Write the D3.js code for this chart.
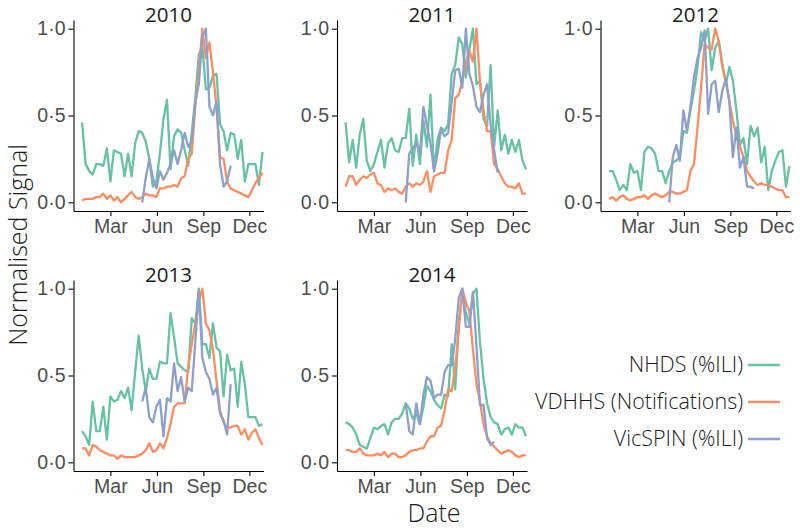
<!DOCTYPE html>
<html>
<head>
<meta charset="utf-8">
<script src="https://cdn.jsdelivr.net/npm/d3@7"></script>
<style>
  body { margin: 0; background: #fff; }
  svg { font-family: "Open Sans", sans-serif; font-weight: 300; }
  .tick text { fill: #4d4d4d; }
</style>
</head>
<body>
<script>
// weekly normalised signals, one value per week (null = no data that week)
const years = [2010, 2011, 2012, 2013, 2014];
const seriesNames = ['NHDS (%ILI)', 'VDHHS (Notifications)', 'VicSPIN (%ILI)'];
const seriesColors = ['#66c2a5', '#fc8d62', '#8da0cb'];
const monthTicks = ['Mar', 'Jun', 'Sep', 'Dec'];
const yTicks = [0, 0.5, 1];

const pre = n => Array(n).fill(null);

const nhds2010 = [0.46,0.22,0.18,0.16,0.22,0.22,0.21,0.31,0.12,0.30,0.29,0.28,0.15,0.28,0.15,0.34,0.41,0.40,0.35,0.25,0.09,0.12,0.28,0.48,0.59,0.19,0.38,0.42,0.40,0.30,0.21,0.40,0.60,0.85,0.90,0.65,0.66,0.73,0.74,0.45,0.41,0.30,0.40,0.39,0.25,0.36,0.12,0.22,0.22,0.22,0.10,0.29];
const vdhhs2010 = [0.01,0.02,0.02,0.02,0.03,0.03,0.05,0.02,0.04,0.01,0.03,0.00,0.02,0.04,0.06,0.03,0.02,0.03,0.05,0.04,0.04,0.03,0.08,0.08,0.09,0.09,0.10,0.09,0.14,0.15,0.25,0.28,0.55,0.75,1.00,0.83,0.92,0.75,0.55,0.26,0.25,0.12,0.08,0.07,0.06,0.05,0.04,0.03,0.07,0.11,0.14,0.17];
const vicspin2010 = pre(17).concat([0.00,0.14,0.25,0.14,0.08,0.18,0.13,0.17,0.22,0.30,0.22,0.30,0.40,0.32,0.35,0.58,0.68,0.95,1.00,0.55,0.50,0.58,0.22,0.09,0.12,0.21]);

const nhds2011 = [0.46,0.23,0.36,0.20,0.39,0.48,0.24,0.18,0.22,0.29,0.36,0.20,0.34,0.37,0.30,0.29,0.37,0.37,0.54,0.21,0.39,0.22,0.47,0.32,0.62,0.18,0.36,0.43,0.41,0.45,0.74,0.79,0.95,0.91,0.72,0.88,1.00,0.68,0.70,0.48,0.44,0.79,0.32,0.53,0.30,0.39,0.28,0.36,0.29,0.36,0.24,0.19];
const vdhhs2011 = [0.09,0.15,0.15,0.10,0.13,0.15,0.14,0.16,0.17,0.11,0.10,0.06,0.08,0.07,0.08,0.06,0.05,0.09,0.11,0.09,0.11,0.10,0.12,0.18,0.06,0.15,0.16,0.17,0.17,0.30,0.36,0.60,0.62,0.70,0.81,0.87,0.81,1.00,0.69,0.53,0.41,0.41,0.22,0.19,0.15,0.11,0.09,0.09,0.08,0.11,0.05,0.05];
const vicspin2011 = pre(17).concat([0.00,0.28,0.31,0.34,0.28,0.55,0.44,0.34,0.18,0.28,0.42,0.38,0.40,0.58,0.76,0.77,0.66,1.00,0.74,0.67,0.55,0.52,0.62,0.68,0.45,0.30,0.17]);

const nhds2012 = [0.18,0.18,0.13,0.07,0.10,0.07,0.22,0.17,0.18,0.07,0.29,0.32,0.31,0.28,0.18,0.18,0.11,0.18,0.23,0.24,0.26,0.41,0.40,0.53,0.64,0.78,0.98,0.93,1.00,0.76,0.89,0.93,0.80,0.68,0.78,0.70,0.53,0.33,0.37,0.22,0.44,0.38,0.43,0.23,0.32,0.07,0.18,0.24,0.29,0.30,0.09,0.21];
const vdhhs2012 = [0.02,0.03,0.01,0.03,0.04,0.02,0.01,0.02,0.03,0.03,0.04,0.02,0.04,0.05,0.04,0.03,0.04,0.06,0.06,0.05,0.05,0.06,0.07,0.18,0.22,0.43,0.66,0.91,0.89,0.88,1.00,0.93,0.78,0.70,0.58,0.47,0.38,0.32,0.26,0.18,0.15,0.12,0.10,0.11,0.10,0.10,0.09,0.08,0.07,0.07,0.03,0.03];
const vicspin2012 = pre(17).concat([0.00,0.26,0.33,0.24,0.53,0.41,0.55,0.72,0.83,0.89,0.99,0.51,0.68,0.70,0.52,0.64,0.71,0.58,0.26,0.43,0.20,0.26,0.09,0.09,0.08]);

const nhds2013 = [0.18,0.15,0.10,0.35,0.18,0.18,0.32,0.13,0.38,0.35,0.36,0.41,0.37,0.43,0.30,0.52,0.73,0.54,0.41,0.54,0.48,0.48,0.58,0.57,0.57,0.86,0.72,0.57,0.55,0.53,0.52,0.83,0.80,1.00,0.68,0.68,0.60,0.80,0.66,0.64,0.38,0.62,0.53,0.54,0.32,0.58,0.45,0.26,0.26,0.26,0.21,0.22];
const vdhhs2013 = [0.08,0.08,0.04,0.10,0.09,0.07,0.06,0.05,0.04,0.04,0.02,0.04,0.03,0.03,0.03,0.03,0.04,0.05,0.07,0.11,0.06,0.07,0.11,0.08,0.14,0.22,0.32,0.34,0.34,0.34,0.55,0.68,0.80,0.93,1.00,0.80,0.76,0.65,0.47,0.30,0.23,0.20,0.20,0.21,0.21,0.16,0.19,0.13,0.17,0.19,0.14,0.10];
const vicspin2013 = pre(17).concat([0.35,0.43,0.26,0.23,0.32,0.36,0.15,0.37,0.35,0.57,0.41,0.49,0.35,0.43,0.41,0.69,0.99,0.60,0.52,0.48,0.39,0.43,0.28,0.24,0.16,0.45]);

const nhds2014 = [0.23,0.22,0.20,0.16,0.10,0.09,0.08,0.14,0.20,0.19,0.21,0.22,0.16,0.23,0.25,0.25,0.28,0.34,0.31,0.25,0.28,0.22,0.32,0.44,0.41,0.36,0.33,0.31,0.39,0.38,0.68,0.42,0.80,0.98,0.86,0.80,0.97,1.00,0.69,0.48,0.34,0.26,0.23,0.22,0.16,0.19,0.20,0.16,0.22,0.20,0.20,0.15];
const vdhhs2014 = [0.07,0.07,0.06,0.06,0.08,0.05,0.04,0.04,0.04,0.05,0.04,0.06,0.03,0.05,0.05,0.03,0.03,0.04,0.06,0.07,0.07,0.08,0.08,0.12,0.15,0.15,0.20,0.21,0.30,0.42,0.41,0.55,0.76,1.00,0.92,0.87,0.65,0.45,0.35,0.22,0.15,0.11,0.09,0.07,0.05,0.06,0.07,0.06,0.04,0.03,0.04,0.04];
const vicspin2014 = pre(17).concat([0.34,0.18,0.16,0.34,0.22,0.39,0.49,0.47,0.37,0.39,0.39,0.52,0.56,0.56,0.71,0.95,1.00,0.78,0.78,0.98,0.67,0.33,0.33,0.14,0.10,0.12]);

const yearSeries = {
  2010: [nhds2010, vdhhs2010, vicspin2010],
  2011: [nhds2011, vdhhs2011, vicspin2011],
  2012: [nhds2012, vdhhs2012, vicspin2012],
  2013: [nhds2013, vdhhs2013, vicspin2013],
  2014: [nhds2014, vdhhs2014, vicspin2014]
};

const width = 800, height = 530;
const panelW = 190, panelH = 191;
const colX = [73.5, 337, 600.5];
const rowY = [20, 280];

// all panels share the same day-of-year axis, drawn on a reference year
const DAY = 864e5;
const firstWeek = Date.UTC(2010, 0, 4);
const weekDate = i => new Date(firstWeek + i * 7 * DAY);

const x = d3.scaleUtc()
  .domain([new Date(Date.UTC(2010, 0, 1) - 14 * DAY), new Date(Date.UTC(2010, 11, 29))])
  .range([0, panelW]);

const y = d3.scaleLinear()
  .domain([-0.05, 1.05])
  .range([panelH, 0]);

const tickDates = monthTicks.map(m => d3.utcParse('%b %Y')(m + ' 2010'));
const fmtY = d => d3.format('.1f')(d).replace('.', '·');

const line = d3.line()
  .defined(d => d != null)
  .x((d, i) => x(weekDate(i)))
  .y(d => y(d));

const svg = d3.select('body').append('svg')
  .attr('width', width)
  .attr('height', height);

years.forEach((yr, k) => {
  const g = svg.append('g')
    .attr('transform', `translate(${colX[k % 3]},${rowY[Math.floor(k / 3)]})`);

  g.append('text')
    .attr('x', panelW / 2)
    .attr('y', 2)
    .attr('text-anchor', 'middle')
    .style('font-size', '20.5px')
    .style('font-weight', 400)
    .attr('fill', '#1a1a1a')
    .text(yr);

  yearSeries[yr].forEach((vals, s) => {
    g.append('path')
      .attr('d', line(vals))
      .attr('fill', 'none')
      .attr('stroke', seriesColors[s])
      .attr('stroke-width', 2.3)
      .attr('stroke-linejoin', 'round');
  });

  const xAxis = g.append('g')
    .attr('transform', `translate(0,${panelH})`)
    .call(d3.axisBottom(x).tickValues(tickDates).tickFormat(d3.utcFormat('%b')).tickSize(5).tickPadding(3).tickSizeOuter(0));
  const yAxis = g.append('g')
    .call(d3.axisLeft(y).tickValues(yTicks).tickFormat(fmtY).tickSize(5).tickPadding(3).tickSizeOuter(0));

  [xAxis, yAxis].forEach(a => {
    a.select('.domain').attr('stroke', '#000').attr('stroke-width', 1.1);
    a.selectAll('.tick line').attr('stroke', '#000').attr('stroke-width', 1.1);
    a.selectAll('.tick text').style('font-size', '19.5px').style('font-family', null);
  });
});

// axis titles
svg.append('text')
  .attr('x', 434)
  .attr('y', 522)
  .attr('text-anchor', 'middle')
  .style('font-size', '25px')
  .attr('fill', '#1a1a1a')
  .text('Date');

svg.append('text')
  .attr('transform', 'translate(27,245) rotate(-90)')
  .attr('text-anchor', 'middle')
  .style('font-size', '25px')
  .attr('fill', '#1a1a1a')
  .text('Normalised Signal');

// legend
const legend = svg.append('g').attr('transform', 'translate(748,365)');
seriesNames.forEach((name, s) => {
  const row = legend.append('g').attr('transform', `translate(0,${s * 37})`);
  row.append('line')
    .attr('x1', 0).attr('x2', 32)
    .attr('stroke', seriesColors[s])
    .attr('stroke-width', 2.5);
  row.append('text')
    .attr('x', -5)
    .attr('y', 7)
    .attr('text-anchor', 'end')
    .style('font-size', '21.5px')
    .attr('fill', '#1a1a1a')
    .text(name);
});
</script>
</body>
</html>
